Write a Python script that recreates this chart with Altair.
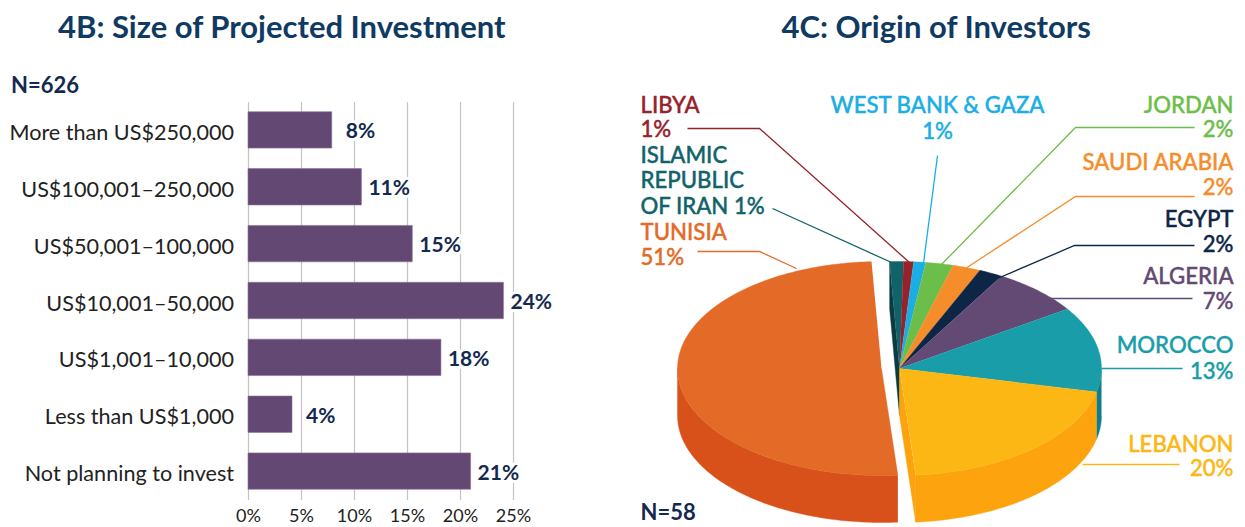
import altair as alt
import numpy as np
import pandas as pd

# ---- 4B data
categories = ["More than US$250,000", "US$100,001–250,000", "US$50,001–100,000",
              "US$10,001–50,000", "US$1,001–10,000", "Less than US$1,000", "Not planning to invest"]
bar_values = [7.9, 10.7, 15.5, 24.1, 18.2, 4.15, 21.0]
bar_labels = ["8%", "11%", "15%", "24%", "18%", "4%", "21%"]

# ---- 4C data (clockwise from the top)
countries = ["IRAN", "LIBYA", "WBG", "JORDAN", "SAUDI", "EGYPT", "ALGERIA", "MOROCCO", "LEBANON", "TUNISIA"]
shares = [1.1, 0.8, 0.95, 2.2, 2.25, 1.9, 7.2, 12.9, 20.2, 50.5]
top_colors = ["#11636A", "#96222B", "#1BAEE5", "#6CBE4A", "#F68D2B", "#0D2646", "#624A75", "#189DA9", "#FDB714", "#E36B27"]
side_colors = ["#0B3B3F", "#7a1a22", "#1590BE", "#579C3C", "#D97A20", "#0A1D36", "#4E3B5E", "#0E7F8A", "#FCA30E", "#D9511A"]

NAVY = "#14294F"
FONT = "Lato"

# ---- pie geometry
CX, CY, RX, RY, DEPTH = 900.0, 368.0, 202.0, 107.0, 47.0
TCX, TRX = 882.0, 204.0
START = -2.8


def edge(cx, rx, th, dy=0.0):
    t = np.radians(th)
    return cx + rx * np.sin(t), CY - RY * np.cos(t) + dy


def arc(cx, rx, a, b, dy=0.0):
    n = max(3, int(abs(b - a)) + 2)
    return [edge(cx, rx, th, dy) for th in np.linspace(a, b, n)]


rows = {"side": [], "top": []}


def add(kind, piece, color, pts):
    for i, (x, y) in enumerate(pts):
        rows[kind].append({"piece": piece, "col": color, "i": i, "x": float(x), "y": float(y)})


cum = START
for name, s, tc, sc in zip(countries, shares, top_colors, side_colors):
    a, b = cum, cum + s * 3.6
    cum = b
    cx, rx = (TCX, TRX) if name == "TUNISIA" else (CX, RX)
    add("top", name, tc, [(cx, CY)] + arc(cx, rx, a, b))
    lo, hi = max(a, 90), min(b, 270)
    if hi > lo:
        add("side", name, sc, arc(cx, rx, lo, hi) + arc(cx, rx, hi, lo, DEPTH))
    if name == "IRAN":
        add("side", "iran_wall", sc, [(cx, CY), (cx, CY + DEPTH), edge(cx, rx, a, DEPTH), edge(cx, rx, a)])
    if name == "LEBANON":
        add("side", "leb_wall", sc, [(cx, CY), (cx, CY + DEPTH), edge(cx, rx, b, DEPTH), edge(cx, rx, b)])

xs = alt.X("x:Q", scale=alt.Scale(domain=[630, 1230], nice=False, zero=False), axis=None)
ys = alt.Y("y:Q", scale=alt.Scale(domain=[499, 101], nice=False, zero=False), axis=None)


def faces(kind):
    return alt.Chart(pd.DataFrame(rows[kind])).mark_line(strokeWidth=0.4, interpolate="linear").encode(
        x=xs, y=ys, order="i:Q", detail="piece:N",
        color=alt.Color("col:N", scale=None), fill=alt.Fill("col:N", scale=None))


# ---- connectors
connectors = [
    ("#96222B", [(688, 128), (760, 128), (910, 262)]),
    ("#1BAEE5", [(938, 155), (924, 263)]),
    ("#6CBE4A", [(1195, 127), (1076, 127), (941, 265)]),
    ("#F68D2B", [(1195, 196), (1076, 196), (966, 268)]),
    ("#0D2646", [(1195, 245), (1075, 245), (998, 278)]),
    ("#624A75", [(1193, 298), (1051, 298)]),
    ("#189DA9", [(1102, 368), (1183, 368)]),
    ("#FDB714", [(1083, 464), (1180, 464)]),
    ("#E36B27", [(698, 251), (760, 251), (797, 268)]),
    ("#11636A", [(773, 208), (892, 262)]),
]
con_rows = [{"k": str(k), "col": c, "i": i, "x": x, "y": y}
            for k, (c, pts) in enumerate(connectors) for i, (x, y) in enumerate(pts)]
conn = alt.Chart(pd.DataFrame(con_rows)).mark_line(strokeWidth=1.3).encode(
    x=xs, y=ys, order="i:Q", detail="k:N", color=alt.Color("col:N", scale=None))

# ---- pie labels
right_labels = [("JORDAN", 104, "#6CBE4A"), ("2%", 128, "#6CBE4A"), ("SAUDI ARABIA", 161, "#F68D2B"), ("2%", 186, "#F68D2B"),
                ("EGYPT", 218, "#0D2646"), ("2%", 243, "#0D2646"), ("ALGERIA", 275, "#624A75"), ("7%", 300, "#624A75"),
                ("MOROCCO", 344, "#189DA9"), ("13%", 370, "#189DA9"), ("LEBANON", 443, "#FDB714"), ("20%", 467, "#FDB714")]
left_labels = [("LIBYA", 104, "#96222B"), ("1%", 128, "#96222B"), ("ISLAMIC", 154, "#11636A"), ("REPUBLIC", 179, "#11636A"),
               ("OF IRAN 1%", 205, "#11636A"), ("TUNISIA", 231, "#E36B27"), ("51%", 256, "#E36B27")]
center_labels = [("WEST BANK & GAZA", 104, "#1BAEE5"), ("1%", 130, "#1BAEE5")]


def labels(items, x, align):
    df = pd.DataFrame([{"t": t, "y": y, "col": c, "x": x} for t, y, c in items])
    return alt.Chart(df).mark_text(font=FONT, fontSize=22.2, fontWeight=500, align=align, baseline="middle",
                                   dy=1, strokeWidth=0.4).encode(
        x=xs, y=ys, text="t:N", color=alt.Color("col:N", scale=None), stroke=alt.Stroke("col:N", scale=None))


def one_text(t, x, y, size, color, weight=700):
    df = pd.DataFrame([{"t": t, "x": x, "y": y}])
    return alt.Chart(df).mark_text(font=FONT, fontSize=size, fontWeight=weight, color=color, align="left",
                                   baseline="middle", dy=1.5).encode(x=xs, y=ys, text="t:N")


right = alt.layer(
    faces("side"), faces("top"), conn,
    labels(right_labels, 1234, "right"), labels(left_labels, 641, "left"), labels(center_labels, 938, "center"),
    one_text("N=58", 641, 511, 22, NAVY),
    one_text("4C: Origin of Investors", 782, 27, 31, "#0F3A62"),
).properties(width=600, height=398)

# ---- bar panel
bars_df = pd.DataFrame({"cat": categories, "v": bar_values, "lab": bar_labels})
bx = alt.X("v:Q", scale=alt.Scale(domain=[0, 25], nice=False),
           axis=alt.Axis(values=[0, 5, 10, 15, 20, 25], format=".0f", labelExpr="datum.label + '%'", title=None,
                         domain=False, ticks=False, grid=True, gridColor="#c4c4c4", gridWidth=1.2, labelOverlap=False,
                         labelFlush=False, labelFont=FONT, labelFontSize=18, labelColor="#222222", labelPadding=8,
                         labelFontWeight=400))
by = alt.Y("cat:N", sort=categories, scale=alt.Scale(paddingInner=0.36, paddingOuter=0.18),
           axis=alt.Axis(title=None, domain=False, ticks=False, labelFont=FONT, labelFontSize=21.6, labelColor="#222222",
                         labelPadding=14.5, labelLimit=400, labelFontWeight=400, grid=False, labelOffset=4))
base = alt.Chart(bars_df)
bars = base.mark_bar(color="#634874", stroke="#8a7397", strokeWidth=0.6).encode(x=bx, y=by)


def bar_text(flt, dx, halo):
    kw = dict(stroke="white", strokeWidth=6) if halo else {}
    return base.transform_filter(flt).mark_text(font=FONT, fontSize=21, fontWeight=700, color=NAVY, align="left",
                                                baseline="middle", dx=dx, dy=2.5, **kw).encode(
        x=alt.X("v:Q"), y=alt.Y("cat:N", sort=categories), text="lab:N")


small = "datum.v < 10"
big = "datum.v >= 10"
head_df = pd.DataFrame({"t": ["4B: Size of Projected Investment"]})
head = alt.Chart(head_df).mark_text(font=FONT, fontSize=31, fontWeight=700, color="#0F3A62", align="left",
                                    baseline="middle", dy=1.5).encode(x=alt.value(-190), y=alt.value(-74), text="t:N")
n_df = pd.DataFrame({"t": ["N=626"]})
nlab = alt.Chart(n_df).mark_text(font=FONT, fontSize=22, fontWeight=700, color=NAVY, align="left",
                                 baseline="middle", dy=1).encode(x=alt.value(-237), y=alt.value(-17), text="t:N")

left = alt.layer(bar_text(small, 14, True), bar_text(big, 7, True), bars, bar_text(small, 14, False),
                 bar_text(big, 7, False), head, nlab).properties(width=265, height=398)

chart = alt.hconcat(left, right, spacing=76.5).properties(padding={"top": 4.5, "left": 0, "right": 0, "bottom": 0}).configure_view(stroke=None)
chart.save("out.html", embed_options={"renderer": "svg", "actions": False})
